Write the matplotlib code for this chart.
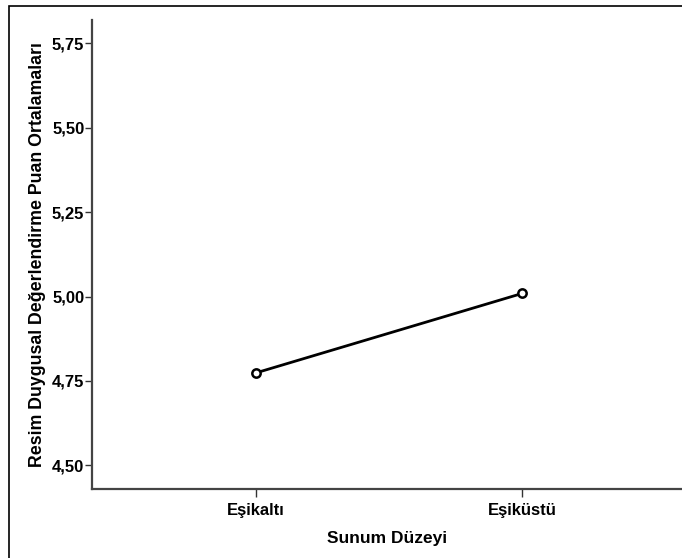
import matplotlib
matplotlib.use("Agg")
import matplotlib.pyplot as plt
import matplotlib.patches as mpatches

categories = ["Eşikaltı", "Eşiküstü"]
means = [4.774, 5.009]
yticks = [4.50, 4.75, 5.00, 5.25, 5.50, 5.75]

plt.rcParams["font.family"] = ["Liberation Sans", "DejaVu Sans"]

W, H = 682, 558
fig = plt.figure(figsize=(W / 100, H / 100), dpi=100)

# outer frame (SPSS chart border)
fig.patches.append(mpatches.Rectangle((9 / W, -0.01), 1.1, (H - 6) / H + 0.01,
                                      transform=fig.transFigure, fill=False,
                                      edgecolor="black", linewidth=1.2))

ax = fig.add_axes([92 / W, (H - 489) / H, (W - 92) / W, (489 - 20) / H])
x = list(range(len(categories)))
ax.plot(x, means, color="black", linewidth=2, marker="o", markersize=6,
        markerfacecolor="white", markeredgecolor="black", markeredgewidth=1.8)

ax.set_xlim(-0.617, 1.602)
ax.set_ylim(4.430, 5.819)
ax.set_xticks(x)
ax.set_xticklabels(categories, fontsize=12, fontweight="bold")
ax.set_yticks(yticks)
ax.set_yticklabels([f"{v:.2f}".replace(".", ",") for v in yticks], fontsize=12, fontweight="bold")
ax.tick_params(axis="y", direction="out", length=5, width=1, color="#333333", pad=0.5)
ax.tick_params(axis="x", direction="out", length=6, width=1, color="#333333", pad=4)

for s in ["top", "right"]:
    ax.spines[s].set_visible(False)
for s in ["left", "bottom"]:
    ax.spines[s].set_color("#444444")
    ax.spines[s].set_linewidth(1.6)

ax.set_xlabel("Sunum Düzeyi", fontsize=12.5, fontweight="bold", labelpad=9.5)
ax.set_ylabel("Resim Duygusal Değerlendirme Puan Ortalamaları", fontsize=12.8,
              fontweight="bold", labelpad=4)

fig.savefig("out.png", dpi=100)
